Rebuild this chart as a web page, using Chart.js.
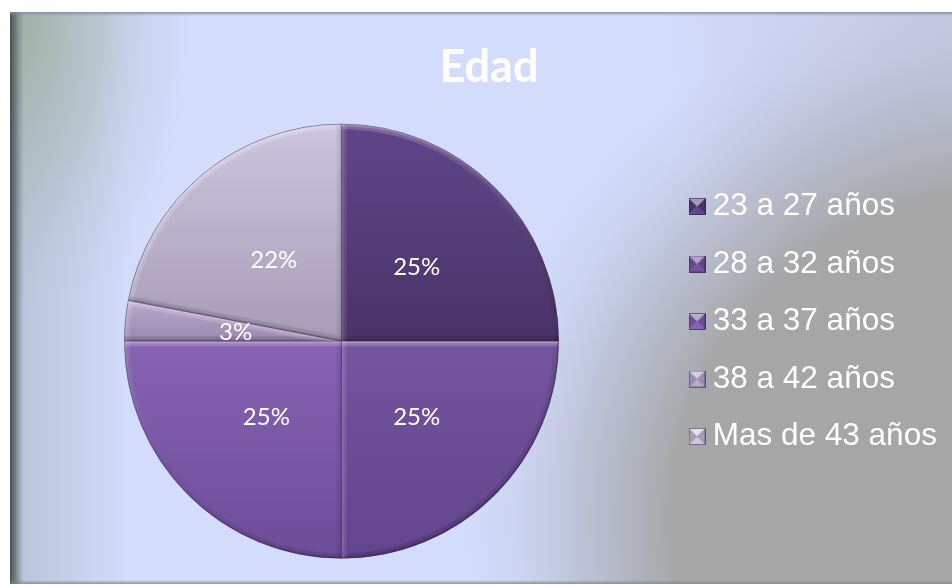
<!DOCTYPE html>
<html>
<head>
<meta charset="utf-8">
<script src="https://cdn.jsdelivr.net/npm/chart.js@4.4.1/dist/chart.umd.min.js"></script>
<style>
html,body{margin:0;padding:0;background:#fff;overflow:hidden;}
#c{display:block;}
</style>
</head>
<body>
<canvas id="c" width="952" height="586"></canvas>
<script>
// ---- data ----
const categories = ['23 a 27 años', '28 a 32 años', '33 a 37 años', '38 a 42 años', 'Mas de 43 años'];
const percentages = [25, 25, 25, 3, 22];
const chartTitle = 'Edad';

// ---- styles ----
const sliceTopColors = ['#60468a', '#75559e', '#8663b3', '#b8aacd', '#cdc5de'];
const sliceBottomColors = ['#4a3366', '#62458c', '#6c4d98', '#988aae', '#a69db5'];

function hexToRgb(h) {
  const n = parseInt(h.slice(1), 16);
  return [(n >> 16) & 255, (n >> 8) & 255, n & 255];
}
function lighten(h, t) {
  const c = hexToRgb(h).map(v => Math.round(v + (255 - v) * t));
  return 'rgb(' + c.join(',') + ')';
}

// bevelled legend markers
function makeMarker(top, bottom) {
  const s = 17, m = s / 2;
  const c = document.createElement('canvas');
  c.width = s; c.height = s;
  const g = c.getContext('2d');
  const tri = (a, b, d, e, col) => {
    g.beginPath(); g.moveTo(a, b); g.lineTo(d, e); g.lineTo(m, m); g.closePath();
    g.fillStyle = col; g.fill();
  };
  tri(0, 0, s, 0, lighten(top, 0.45));
  tri(0, s, s, s, top);
  tri(0, 0, 0, s, bottom);
  tri(s, 0, s, s, bottom);
  g.strokeStyle = 'rgba(40,30,60,0.55)';
  g.lineWidth = 1;
  g.strokeRect(0.5, 0.5, s - 1, s - 1);
  return c;
}
const markers = sliceTopColors.map((t, i) => makeMarker(t, sliceBottomColors[i]));

const total = percentages.reduce((a, b) => a + b, 0);
const PIE_RADIUS = 217;

function sliceGradient(context) {
  const chart = context.chart;
  const area = chart.chartArea;
  if (!area) return sliceTopColors[context.dataIndex];
  const i = context.dataIndex;
  const cx = (area.left + area.right) / 2, cy = (area.top + area.bottom) / 2;
  let before = 0;
  for (let k = 0; k < i; k++) before += percentages[k];
  const sa = -Math.PI / 2 + 2 * Math.PI * before / total;
  const ea = sa + 2 * Math.PI * percentages[i] / total;
  let minY = cy, maxY = cy;
  for (let k = 0; k <= 60; k++) {
    const a = sa + (ea - sa) * k / 60;
    const yy = cy + PIE_RADIUS * Math.sin(a);
    minY = Math.min(minY, yy); maxY = Math.max(maxY, yy);
  }
  const g = chart.ctx.createLinearGradient(0, minY, 0, maxY);
  g.addColorStop(0, sliceTopColors[i]);
  g.addColorStop(1, sliceBottomColors[i]);
  return g;
}

const backgroundPlugin = {
  id: 'panelBackground',
  beforeDraw(chart) {
    const ctx = chart.ctx;
    const W = chart.width, H = chart.height;
    const x0 = 10, y0 = 12, x1 = W, y1 = H - 2;
    ctx.save();
    ctx.fillStyle = '#ffffff';
    ctx.fillRect(0, 0, W, H);
    ctx.beginPath(); ctx.rect(x0, y0, x1 - x0, y1 - y0); ctx.clip();
    ctx.fillStyle = '#d3ddfb';
    ctx.fillRect(x0, y0, x1 - x0, y1 - y0);

    // top-right lavender haze
    let g = ctx.createRadialGradient(952, 12, 0, 952, 12, 300);
    g.addColorStop(0, 'rgba(196,194,218,0.8)');
    g.addColorStop(1, 'rgba(196,194,218,0)');
    ctx.fillStyle = g;
    ctx.fillRect(x0, y0, x1 - x0, y1 - y0);

    // grey area on the right
    g = ctx.createRadialGradient(1000, 520, 0, 1000, 520, 540);
    g.addColorStop(0, 'rgba(166,166,166,1)');
    g.addColorStop(0.6, 'rgba(166,166,166,1)');
    g.addColorStop(0.78, 'rgba(170,172,182,0.55)');
    g.addColorStop(0.9, 'rgba(180,184,205,0.22)');
    g.addColorStop(1, 'rgba(190,195,220,0)');
    ctx.fillStyle = g;
    ctx.fillRect(x0, y0, x1 - x0, y1 - y0);

    // left grey-blue band
    g = ctx.createLinearGradient(20, 0, 130, 0);
    g.addColorStop(0, 'rgba(165,178,190,0.55)');
    g.addColorStop(1, 'rgba(165,178,190,0)');
    ctx.fillStyle = g;
    ctx.fillRect(x0, y0, 130, y1 - y0);

    // top-left greenish haze
    ctx.save();
    ctx.translate(15, 20);
    ctx.scale(1, 1.8);
    g = ctx.createRadialGradient(0, 0, 0, 0, 0, 180);
    g.addColorStop(0, 'rgba(150,172,148,0.8)');
    g.addColorStop(0.5, 'rgba(165,182,175,0.45)');
    g.addColorStop(1, 'rgba(190,200,230,0)');
    ctx.fillStyle = g;
    ctx.fillRect(-50, -50, 400, 400);
    ctx.restore();

    // dark left edge
    g = ctx.createLinearGradient(x0, 0, x0 + 14, 0);
    g.addColorStop(0, 'rgba(72,80,82,1)');
    g.addColorStop(0.4, 'rgba(95,104,110,0.75)');
    g.addColorStop(1, 'rgba(120,130,140,0)');
    ctx.fillStyle = g;
    ctx.fillRect(x0, y0, 14, y1 - y0);

    // top edge
    g = ctx.createLinearGradient(0, y0, 0, y0 + 4);
    g.addColorStop(0, 'rgba(130,140,170,0.9)');
    g.addColorStop(1, 'rgba(130,140,170,0)');
    ctx.fillStyle = g;
    ctx.fillRect(x0, y0, x1 - x0, 4);
    // bottom edge
    g = ctx.createLinearGradient(0, y1 - 4, 0, y1);
    g.addColorStop(0, 'rgba(130,130,150,0)');
    g.addColorStop(1, 'rgba(130,130,150,0.8)');
    ctx.fillStyle = g;
    ctx.fillRect(x0, y1 - 4, x1 - x0, 4);
    ctx.restore();
  }
};

const positionPlugin = {
  id: 'boxPositions',
  afterLayout(chart) {
    const t = chart.titleBlock;
    if (t) {
      const dx = 489 - (t.left + t.right) / 2;
      t.left += dx; t.right += dx;
    }
    const lg = chart.legend;
    if (lg) {
      const w = lg.width;
      lg.left = 671; lg.right = 671 + w;
      lg.top = 164.75; lg.bottom = 586;
      lg.height = lg.bottom - lg.top;
    }
  }
};

const L = (() => { const x = -0.45, y = -0.9, n = Math.hypot(x, y); return {x: x / n, y: y / n}; })();
function shade(b, k) {
  return b > 0 ? 'rgba(255,240,255,' + (0.45 * b * k).toFixed(3) + ')'
               : 'rgba(20,10,40,' + (0.3 * -b * k).toFixed(3) + ')';
}

const bevelPlugin = {
  id: 'bevel',
  afterDatasetsDraw(chart) {
    const ctx = chart.ctx;
    const meta = chart.getDatasetMeta(0);
    meta.data.forEach((arc) => {
      const {x, y, startAngle: sa, endAngle: ea, outerRadius: r} = arc;
      ctx.save();
      ctx.beginPath(); ctx.moveTo(x, y); ctx.arc(x, y, r, sa, ea); ctx.closePath(); ctx.clip();
      [[10, 0.5], [4, 0.65]].forEach(([lw, k]) => {
        const cg = ctx.createConicGradient(0, x, y);
        for (let s = 0; s <= 72; s++) {
          const a = s / 72 * 2 * Math.PI;
          cg.addColorStop(s / 72, shade(Math.cos(a) * L.x + Math.sin(a) * L.y, k));
        }
        ctx.lineWidth = lw;
        ctx.strokeStyle = cg;
        ctx.beginPath(); ctx.arc(x, y, r, sa, ea); ctx.stroke();
        [[sa, 1], [ea, -1]].forEach(([t, sg]) => {
          const nx = sg > 0 ? Math.sin(t) : -Math.sin(t);
          const ny = sg > 0 ? -Math.cos(t) : Math.cos(t);
          ctx.strokeStyle = shade(nx * L.x + ny * L.y, k);
          ctx.beginPath(); ctx.moveTo(x, y); ctx.lineTo(x + r * Math.cos(t), y + r * Math.sin(t)); ctx.stroke();
        });
      });
      ctx.restore();
    });
  }
};

const labelPlugin = {
  id: 'sliceLabels',
  afterDatasetsDraw(chart) {
    const ctx = chart.ctx;
    const meta = chart.getDatasetMeta(0);
    ctx.save();
    ctx.font = '24px Lato';
    ctx.fillStyle = '#ffffff';
    ctx.textAlign = 'center';
    ctx.textBaseline = 'middle';
    meta.data.forEach((arc, i) => {
      const {x, y, startAngle, endAngle, outerRadius} = arc;
      const mid = (startAngle + endAngle) / 2;
      const rr = outerRadius * 0.49;
      ctx.fillText(percentages[i] + '%', x + Math.cos(mid) * rr, y + Math.sin(mid) * rr + 1);
    });
    ctx.restore();
  }
};

new Chart(document.getElementById('c'), {
  type: 'pie',
  data: {
    labels: categories,
    datasets: [{
      data: percentages,
      backgroundColor: sliceGradient,
      borderColor: 'rgba(55,45,70,0.65)',
      borderWidth: 1,
      hoverOffset: 0,
      clip: false
    }]
  },
  options: {
    responsive: false,
    devicePixelRatio: 1,
    animation: false,
    events: [],
    radius: PIE_RADIUS,
    layout: {padding: {left: 12, right: 5, top: 0, bottom: 14.6}},
    plugins: {
      tooltip: {enabled: false},
      title: {
        display: true,
        text: chartTitle,
        color: '#ffffff',
        font: {family: 'Lato', size: 45, weight: 'bold', lineHeight: 1.2},
        padding: {top: 40, bottom: 17}
      },
      legend: {
        display: true,
        position: 'right',
        align: 'start',
        fullSize: false,
        labels: {
          usePointStyle: true,
          boxWidth: 0.01,
          boxHeight: 17,
          padding: 26,
          color: '#ffffff',
          font: {family: "'Liberation Sans', Arial, sans-serif", size: 31.5},
          generateLabels(chart) {
            return categories.map((label, i) => ({
              text: label,
              fillStyle: sliceTopColors[i],
              strokeStyle: 'rgba(0,0,0,0)',
              lineWidth: 0,
              pointStyle: markers[i],
              fontColor: '#ffffff',
              hidden: false,
              index: i,
              datasetIndex: 0
            }));
          }
        }
      }
    }
  },
  plugins: [backgroundPlugin, positionPlugin, bevelPlugin, labelPlugin]
});
</script>
</body>
</html>
